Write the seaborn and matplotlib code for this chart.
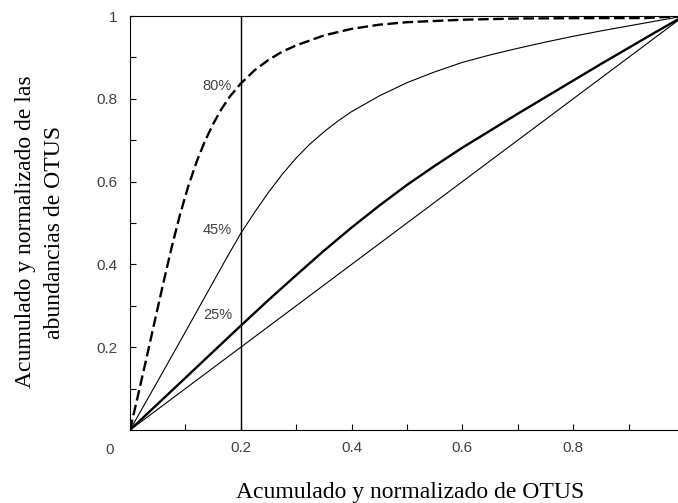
import matplotlib
matplotlib.use("Agg")
import matplotlib.pyplot as plt
import seaborn as sns

# ---------------------------------------------------
# DATA
# ---------------------------------------------------

diag_x = [0.0, 1.0]
diag_y = [0.0, 1.0]

# thick solid curve (25% at x = 0.2)
c25_x = [0.0, 0.1, 0.2, 0.25, 0.3, 0.35, 0.4, 0.45, 0.5, 0.55, 0.6,
         0.65, 0.7, 0.75, 0.8, 0.85, 0.9, 0.95, 1.0]
c25_y = [0.0, 0.126, 0.252, 0.314, 0.374, 0.433, 0.489, 0.542, 0.592,
         0.638, 0.682, 0.723, 0.764, 0.804, 0.844, 0.884, 0.923, 0.962, 1.0]

# thin solid curve (45% at x = 0.2)
c45_x = [0.0, 0.05, 0.1, 0.15, 0.175, 0.2, 0.225, 0.25, 0.275, 0.3, 0.325,
         0.35, 0.375, 0.4, 0.45, 0.5, 0.55, 0.6, 0.65, 0.7, 0.75, 0.8,
         0.85, 0.9, 0.95, 1.0]
c45_y = [0.0, 0.118, 0.237, 0.357, 0.417, 0.475, 0.526, 0.574, 0.618,
         0.657, 0.691, 0.72, 0.746, 0.769, 0.807, 0.839, 0.865, 0.888,
         0.906, 0.922, 0.937, 0.951, 0.964, 0.976, 0.988, 1.0]

# dashed curve (80% at x = 0.2)
c80_x = [0.0, 0.015, 0.03, 0.045, 0.06, 0.075, 0.09, 0.105, 0.12, 0.135,
         0.15, 0.165, 0.18, 0.2, 0.225, 0.25, 0.275, 0.3, 0.35, 0.4, 0.45,
         0.5, 0.6, 0.7, 0.85, 0.93, 1.0]
c80_y = [0.0, 0.087, 0.175, 0.265, 0.354, 0.44, 0.519, 0.588, 0.647,
         0.697, 0.739, 0.775, 0.805, 0.837, 0.869, 0.894, 0.914, 0.929,
         0.953, 0.969, 0.979, 0.985, 0.991, 0.994, 0.995, 0.995, 1.0]

pct_labels = ["80%", "45%", "25%"]
pct_y = [0.831, 0.483, 0.278]

x_major = [0.2, 0.4, 0.6, 0.8]
x_minor = [0.1, 0.3, 0.5, 0.7, 0.9]
y_major = [0.2, 0.4, 0.6, 0.8, 1.0]
y_major_labels = ["0.2", "0.4", "0.6", "0.8", "1"]
y_minor = [0.1, 0.3, 0.5, 0.7, 0.9]

xlabel = "Acumulado y normalizado de OTUS"
ylabel = "Acumulado y normalizado de las\nabundancias de OTUS"

# ---------------------------------------------------
# PLOT
# ---------------------------------------------------

sns.set_theme(style="ticks")
plt.rcParams["font.family"] = ["Liberation Sans", "DejaVu Sans"]

W, H = 678, 503
fig = plt.figure(figsize=(W / 100, H / 100), dpi=100)
ax = fig.add_axes([130 / W, 1 - 430 / H, 554 / W, 414 / H])

sns.lineplot(x=diag_x, y=diag_y, ax=ax, color="black", linewidth=0.8,
             estimator=None, sort=False)
sns.lineplot(x=c25_x, y=c25_y, ax=ax, color="black", linewidth=1.7,
             estimator=None, sort=False)
sns.lineplot(x=c45_x, y=c45_y, ax=ax, color="black", linewidth=0.8,
             estimator=None, sort=False)
sns.lineplot(x=c80_x, y=c80_y, ax=ax, color="black", linewidth=1.7,
             estimator=None, sort=False)
ax.lines[-1].set_dashes((4.5, 1.9))

ax.axvline(0.2, color="black", linewidth=1.0)

for lab, yv in zip(pct_labels, pct_y):
    ax.text(0.184, yv, lab, ha="right", va="center", fontsize=10.5,
            color="#404040")

ax.annotate("0", xy=(0, 0), xytext=(-14.4, -14.4), textcoords="offset points",
            ha="center", va="center", fontsize=11, color="#404040",
            annotation_clip=False)

ax.set_xlim(0, 1)
ax.set_ylim(0, 1)

ax.set_xticks(x_major)
ax.set_xticklabels([f"{v:.1f}" for v in x_major])
ax.set_xticks(x_minor, minor=True)
ax.set_yticks(y_major)
ax.set_yticklabels(y_major_labels)
ax.set_yticks(y_minor, minor=True)

ax.tick_params(which="both", direction="in", length=4, width=0.8,
               color="black", labelcolor="#404040", labelsize=11)
ax.tick_params(axis="x", which="major", pad=8)
ax.tick_params(axis="y", which="major", pad=9)

for side in ["left", "bottom", "top"]:
    ax.spines[side].set_color("black")
    ax.spines[side].set_linewidth(0.8)
ax.spines["right"].set_visible(False)

ax.set_xlabel(xlabel, fontsize=17, family="Liberation Serif", color="black")
ax.xaxis.set_label_coords(0.505, -0.152)
ax.xaxis.label.set_va("center")

ax.set_ylabel(ylabel, fontsize=17, family="Liberation Serif", color="black",
              linespacing=1.5)
ax.yaxis.set_label_coords(-0.163, 0.478)
ax.yaxis.label.set_va("center")

fig.savefig("out.png", dpi=100)
